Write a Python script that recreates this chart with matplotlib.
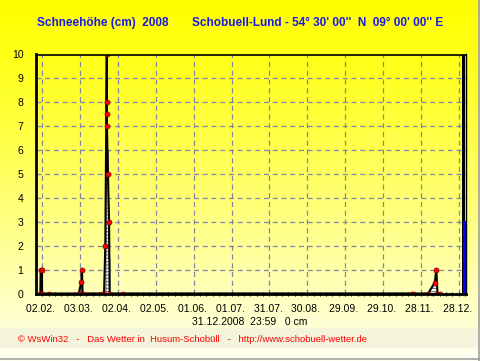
import matplotlib
matplotlib.use('Agg')
import matplotlib.pyplot as plt
import matplotlib.dates as mdates
from matplotlib.patches import Rectangle
from matplotlib.lines import Line2D
import numpy as np
import pandas as pd

plt.rcParams['font.family'] = ['Liberation Sans', 'DejaVu Sans']
plt.rcParams['hatch.linewidth'] = 0.8

# snow height readings (cm), red dots joined by the black line
snow_times = ['2008-01-31 12:00', '2008-01-31 19:00', '2008-02-01 19:00', '2008-02-01 21:30',
              '2008-02-07 14:00',
              '2008-03-02 00:00', '2008-03-04 00:00', '2008-03-04 12:00', '2008-03-05 00:00',
              '2008-03-20 10:00', '2008-03-22 00:00', '2008-03-23 00:00', '2008-03-24 04:00',
              '2008-03-24 05:00', '2008-03-24 06:00', '2008-03-24 07:00', '2008-03-25 02:00',
              '2008-03-26 00:00', '2008-03-26 10:00', '2008-04-06 00:00',
              '2008-11-21 00:00', '2008-11-22 00:00', '2008-12-03 17:00', '2008-12-09 00:00',
              '2008-12-10 07:00', '2008-12-11 05:00', '2008-12-13 05:00']
snow_cm = [0, 1, 1, 0,
           0,
           0, 0.5, 1, 0,
           0, 0, 2, 10,
           8, 7.5, 7, 5,
           3, 0, 0,
           0, 0, 0, 0.45,
           1, 0, 0]

# hatched area under the readings
area_times = ['2008-03-03 00:00', '2008-03-03 12:00', '2008-03-04 06:00', '2008-03-04 08:00',
              '2008-03-23 12:00', '2008-03-23 14:00', '2008-03-25 12:00', '2008-03-25 13:00',
              '2008-03-26 16:00', '2008-03-26 17:00',
              '2008-12-03 17:00', '2008-12-09 00:00', '2008-12-10 06:00', '2008-12-11 00:00',
              '2008-12-11 01:00']
area_cm = [0, 0.5, 0.5, 0,
           0, 6, 6, 1.5,
           1.5, 0,
           0, 0.45, 0.5, 0.5,
           0]

tick_start = '2008-02-02'
tick_count = 12
x_from = '2008-01-28 02:00'
x_to = '2009-01-02 19:00'
data_end = '2008-12-31 17:00'
now_line = '2009-01-01 13:00'

title_left = 'Schneehöhe (cm)  2008'
title_right = "Schobuell-Lund - 54° 30' 00''  N  09° 00' 00'' E"
stamp = '31.12.2008  23:59   0 cm'
footer = '\u00a9 WsWin32   -   Das Wetter in  Husum-Schobüll   -   http://www.schobuell-wetter.de'

W, H = 481, 361
fig = plt.figure(figsize=(W / 100, H / 100), dpi=100)

# yellow -> pale background
bg = fig.add_axes([0, 0, 1, 1], zorder=-10)
yy = np.linspace(0, 1, 361)[:, None]
grad = np.ones((361, 2, 3))
grad[:, :, 2] = (0.95 * yy ** 1.25)
bg.imshow(grad, aspect='auto', extent=[0, 1, 0, 1], origin='upper')
bg.add_patch(Rectangle((0, (H - 348) / H), 1, 20 / H, color='#e8e8d8', alpha=0.45, lw=0))
bg.set_xlim(0, 1)
bg.set_ylim(0, 1)
bg.axis('off')
fig.add_artist(Line2D([1 - 1.5 / W, 1 - 1.5 / W], [0, 1], color='#a0a0a0', lw=1.2))
fig.add_artist(Line2D([0, 1], [2.5 / H, 2.5 / H], color='#a0a0a0', lw=1.2))

ax = fig.add_axes([36 / W, (H - 293.5) / H, 430 / W, 239 / H])
ax.set_facecolor('none')

t_snow = pd.to_datetime(snow_times)
t_area = pd.to_datetime(area_times)

ax.fill_between(t_area, 0, area_cm, facecolor='white', edgecolor='#707070',
                hatch='-----', lw=0.8, zorder=2)
ax.plot(t_snow, snow_cm, color='black', lw=1.5, zorder=3)
ax.plot(t_snow, snow_cm, ls='none', marker='o', ms=3.6, mfc='red', mec='#800000',
        mew=0.5, zorder=4)

ax.axvline(pd.Timestamp(data_end), color='black', lw=0.8, antialiased=False, zorder=3)
ax.axvline(pd.Timestamp(now_line), ymax=0.3, color='blue', lw=0.8, antialiased=False, zorder=3)

ticks = pd.date_range(tick_start, periods=tick_count, freq='30D')
ax.set_xticks(ticks)
ax.set_xticklabels([t.strftime('%d.%m. ') for t in ticks])
minor = pd.date_range(pd.Timestamp(tick_start) - pd.Timedelta(days=5), x_to, freq='5D')
ax.set_xticks(minor, minor=True)
ax.set_xlim(pd.Timestamp(x_from), pd.Timestamp(x_to))
ax.set_ylim(0, 10)
ax.set_yticks(range(0, 11))

ax.tick_params(axis='x', which='major', length=3, direction='inout', labelsize=7.5, pad=6,
               width=0.8)
ax.tick_params(axis='x', which='minor', length=3, direction='inout', width=0.8)
ax.tick_params(axis='y', length=0, labelsize=7.5, pad=9)

ax.grid(True, which='major', color='#8484a4', linestyle=(0, (4, 3)), lw=0.9)
ax.set_axisbelow(True)
for side, w in [('left', 2), ('bottom', 2), ('top', 1.2), ('right', 1.0)]:
    ax.spines[side].set_linewidth(w)
    ax.spines[side].set_color('black')
    ax.spines[side].set_zorder(5)

fig.text(37 / W, 1 - 23 / H, title_left, color='#1a1ae6', fontsize=8.5, weight='bold', va='center')
fig.text(192 / W, 1 - 23 / H, title_right, color='#1a1ae6', fontsize=8.5, weight='bold', va='center')
fig.text(250 / W, 1 - 322 / H, stamp, ha='center', va='center', fontsize=7.5)
fig.text(18 / W, 1 - 340 / H, footer, color='red', va='center', fontsize=6.8)

fig.savefig('out.png', dpi=100)
